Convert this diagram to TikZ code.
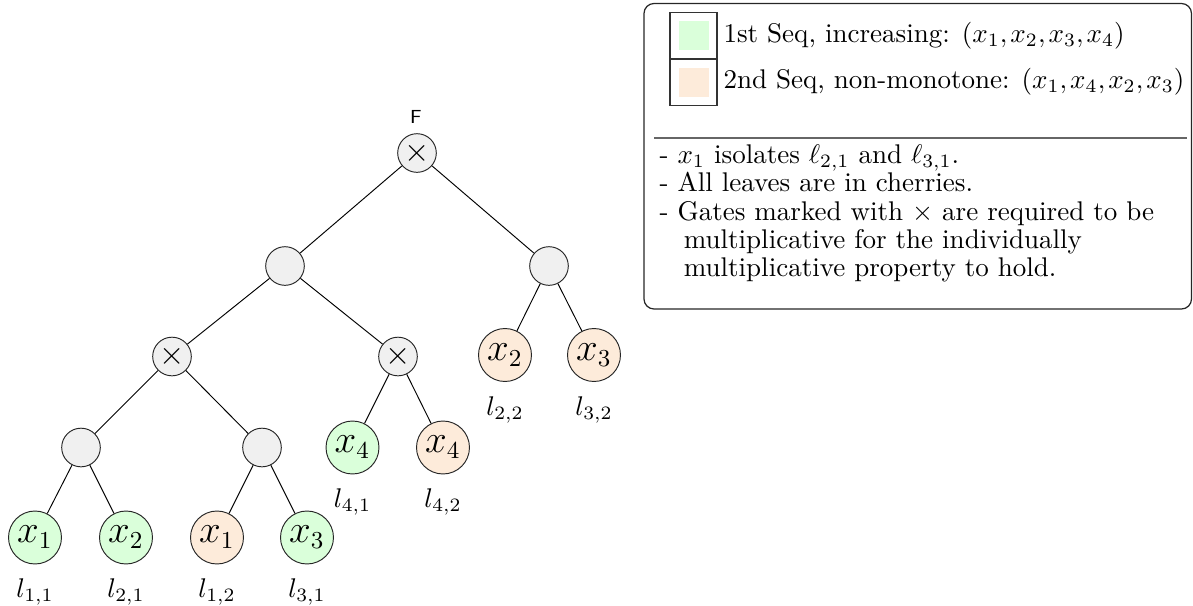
\documentclass[tikz,border=0pt]{standalone}
\usetikzlibrary{calc}
\definecolor{seqone}{RGB}{218,255,218}
\definecolor{seqtwo}{RGB}{253,235,218}
\definecolor{gatefill}{RGB}{240,240,240}
% tuple with slightly tighter comma spacing
\newcommand{\tup}[4]{(#1{,}\mkern2mu #2{,}\mkern2mu #3{,}\mkern2mu #4)}
\begin{document}
\begin{tikzpicture}[x=0.37pt,y=-0.37pt,
  gate/.style={circle,draw=black!85,line width=0.35pt,fill=gatefill,minimum size=14.3pt,inner sep=0pt,font=\large},
  leafA/.style={circle,draw=black!85,line width=0.35pt,fill=seqone,minimum size=19.6pt,inner sep=0pt,font=\fontsize{13.5pt}{15pt}\selectfont},
  leafB/.style={leafA,fill=seqtwo},
  leaflabel/.style={anchor=base,inner sep=0pt},
  edge/.style={draw=black,line width=0.35pt},
  swatch/.style={draw=black!80,line width=0.45pt,minimum width=17.4pt,minimum height=17.2pt,inner sep=0pt}]
\useasboundingbox (0,0) rectangle (1193,606);

% circuit gates
\node[gate] (r) at (417,153) {$\times$};
\node[inner sep=0pt,font=\sffamily\scriptsize] (F) at (416,116.5) {F};
\node[gate] (a) at (285,266) {};
\node[gate] (b) at (549,266) {};
\node[gate] (aa) at (172,356.5) {$\times$};
\node[gate] (ab) at (398,356.5) {$\times$};
\node[gate] (aaa) at (81,447.5) {};
\node[gate] (aab) at (262,447.5) {};

% leaves
\node[leafB] (ba) at (505,355) {$x_2$};
\node[leafB] (bb) at (594,355) {$x_3$};
\node[leafA] (aba) at (352.5,447.5) {$x_4$};
\node[leafB] (abb) at (443,447.5) {$x_4$};
\node[leafA] (l1) at (35,537.5) {$x_1$};
\node[leafA] (l2) at (126,537.5) {$x_2$};
\node[leafB] (l3) at (217,537.5) {$x_1$};
\node[leafA] (l4) at (307,537.5) {$x_3$};

% wires
\draw[edge] (r) -- (a);
\draw[edge] (r) -- (b);
\draw[edge] (a) -- (aa);
\draw[edge] (a) -- (ab);
\draw[edge] (b) -- (ba);
\draw[edge] (b) -- (bb);
\draw[edge] (aa) -- (aaa);
\draw[edge] (aa) -- (aab);
\draw[edge] (ab) -- (aba);
\draw[edge] (ab) -- (abb);
\draw[edge] (aaa) -- (l1);
\draw[edge] (aaa) -- (l2);
\draw[edge] (aab) -- (l3);
\draw[edge] (aab) -- (l4);

% leaf names
\node[leaflabel] (n11) at ($(l1)+(0,60)$) {$l_{1,1}$};
\node[leaflabel] (n21) at ($(l2)+(0,60)$) {$l_{2,1}$};
\node[leaflabel] (n12) at ($(l3)+(0,60)$) {$l_{1,2}$};
\node[leaflabel] (n31) at ($(l4)+(0,60)$) {$l_{3,1}$};
\node[leaflabel] (n41) at ($(aba)+(0,60)$) {$l_{4,1}$};
\node[leaflabel] (n42) at ($(abb)+(0,60)$) {$l_{4,2}$};
\node[leaflabel] (n22) at ($(ba)+(0,60)$) {$l_{2,2}$};
\node[leaflabel] (n32) at ($(bb)+(0,60)$) {$l_{3,2}$};

% legend
\draw[black!85,line width=0.45pt,rounded corners=3.7pt] (644,3.5) rectangle (1191.5,309);
\node[swatch] (k1) at (693.5,36) {};
\node[swatch] (k2) at (693.5,82) {};
\fill[seqone] (679,21) rectangle (709,50);
\fill[seqtwo] (679,68) rectangle (709,97);
\node[anchor=west,inner sep=0pt] (t1) at (723,36) {1st Seq, increasing: $\tup{x_1}{x_2}{x_3}{x_4}$};
\node[anchor=west,inner sep=0pt] (t2) at (723,82) {2nd Seq, non-monotone: $\tup{x_1}{x_4}{x_2}{x_3}$};
\draw[black!60,line width=0.4pt] (654,138) -- (1187,138);
\node[anchor=north west,inner sep=0pt,align=left,
      font={\fontsize{10pt}{10.4pt}\selectfont\lineskiplimit=-10pt}] (notes) at (659,144.5)
  {- $x_1$ isolates $\ell_{2,1}$ and $\ell_{3,1}$.\\
   - All leaves are in cherries.\\
   - Gates marked with $\times$ are required to be\\
   \hspace*{9pt}multiplicative for the individually\\
   \hspace*{9pt}multiplicative property to hold.};
\end{tikzpicture}
\end{document}
